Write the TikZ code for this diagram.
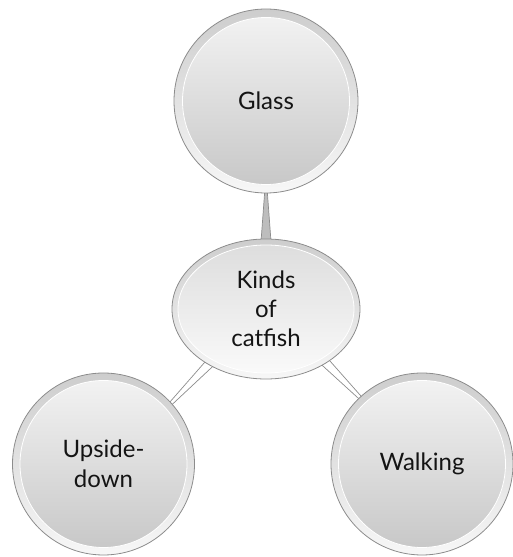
\documentclass[tikz,border=0pt]{standalone}
\usepackage{fontspec}
\setmainfont{Lato}
\usetikzlibrary{calc,backgrounds,shapes.geometric}
\definecolor{rimline}{HTML}{8C8C8C}
\definecolor{ringtop}{HTML}{CDCDCD}
\definecolor{ringbot}{HTML}{F7F7F7}
\definecolor{intop}{HTML}{F4F4F4}
\definecolor{inbot}{HTML}{C6C6C6}
\definecolor{hubtop}{HTML}{DCDCDC}
\definecolor{hubbot}{HTML}{FBFBFB}
\definecolor{txt}{HTML}{141414}
\definecolor{wedgefill}{HTML}{BDBDBD}
\tikzset{
  bubble/.style={circle, draw=rimline, line width=0.8pt, minimum size=184pt, inner sep=0pt,
    top color=ringtop, bottom color=ringbot, align=center, text=txt,
    font=\fontsize{24}{30}\selectfont,
    path picture={\shade[top color=intop, bottom color=inbot, draw=white, line width=0.8pt]
      (path picture bounding box.center) circle (83.5pt);}},
  hub/.style={ellipse, draw=rimline, line width=0.8pt, minimum width=188pt, minimum height=140pt,
    inner sep=0pt, top color=ringtop, bottom color=ringbot, align=center, text=txt,
    font=\fontsize{24}{29}\selectfont,
    path picture={\shade[top color=hubtop, bottom color=hubbot, draw=white, line width=0.8pt]
      (path picture bounding box.center) ellipse [x radius=88pt, y radius=64pt];}},
  greywedge/.style={fill=wedgefill, draw=rimline, line width=0.7pt, line join=round},
  whitewedge/.style={fill=white, draw=rimline, line width=0.7pt, line join=round},
}
\newcommand\taper[5]{%
  \filldraw[#5] ($(#1)!#3!90:(#2)$) -- ($(#2)!#4!-90:(#1)$) -- ($(#2)!#4!90:(#1)$) -- ($(#1)!#3!-90:(#2)$) -- cycle;}
\begin{document}
\begin{tikzpicture}[x=1pt,y=1pt]
\useasboundingbox (0,0) rectangle (512,557);
\node[bubble] (glass) at (266,456) {Glass};
\node[hub] (ctr) at (266,248) {Kinds\\of\\catfish};
\node[bubble, minimum size=182pt] (up) at (103.5,93) {Upside-\\down};
\node[bubble, minimum size=182pt] (walk) at (422,93) {Walking};
\coordinate (g1) at ($(ctr.north)+(0,-3)$);
\coordinate (g2) at ($(glass.south)+(0,3)$);
\coordinate (l1) at ($(ctr.224)!-4pt!(up.42)$);
\coordinate (l2) at ($(up.42)!-4pt!(ctr.224)$);
\coordinate (r1) at ($(ctr.318)!-4pt!(walk.133)$);
\coordinate (r2) at ($(walk.133)!-4pt!(ctr.318)$);
\begin{scope}[on background layer]
\taper{g1}{g2}{5pt}{1.2pt}{greywedge}
\taper{l1}{l2}{4.5pt}{1.5pt}{whitewedge}
\taper{r1}{r2}{4.5pt}{1.5pt}{whitewedge}
\end{scope}
\end{tikzpicture}
\end{document}
